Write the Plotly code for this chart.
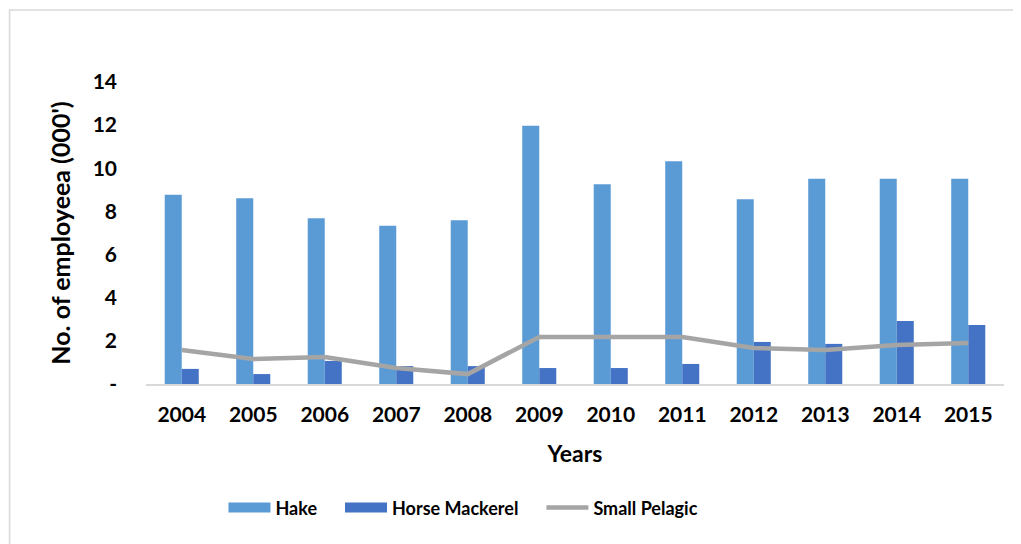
import plotly.graph_objects as go

years = ["2004", "2005", "2006", "2007", "2008", "2009",
         "2010", "2011", "2012", "2013", "2014", "2015"]
hake = [8.77, 8.61, 7.68, 7.34, 7.59, 11.97, 9.26, 10.33, 8.57, 9.51, 9.51, 9.51]
horse_mackerel = [0.70, 0.46, 1.07, 0.83, 0.83, 0.74, 0.74, 0.93, 1.95, 1.86, 2.92, 2.74]
small_pelagic = [1.58, 1.16, 1.25, 0.74, 0.46, 2.18, 2.18, 2.18, 1.67, 1.58, 1.81, 1.90]

y_ticks = [0, 2, 4, 6, 8, 10, 12, 14]
y_labels = ["-", "2", "4", "6", "8", "10", "12", "14"]

FONT = "Lato, 'Open Sans', sans-serif"
HAKE_COLOR = "#5B9BD5"
HORSE_COLOR = "#4472C4"
PELAGIC_COLOR = "#A5A5A5"
PAD = "\u2002\u2002"  # extra room between legend entries

fig = go.Figure()
fig.add_trace(go.Bar(x=years, y=hake, name="Hake", showlegend=False,
                     marker={"color": HAKE_COLOR, "line": {"width": 0}}))
fig.add_trace(go.Bar(x=years, y=horse_mackerel, name="Horse Mackerel", showlegend=False,
                     marker={"color": HORSE_COLOR, "line": {"width": 0}}))
fig.add_trace(go.Scatter(x=years, y=small_pelagic, name="Small Pelagic", showlegend=False,
                         mode="lines", line={"color": PELAGIC_COLOR, "width": 4.5}))

# legend entries styled like the Excel swatches (wide blocks for bars)
for name, color, width in [("Hake" + PAD, HAKE_COLOR, 14),
                           ("Horse Mackerel" + PAD, HORSE_COLOR, 14),
                           ("Small Pelagic", PELAGIC_COLOR, 4.5)]:
    fig.add_trace(go.Scatter(x=[None], y=[None], name=name, mode="lines",
                             line={"color": color, "width": width}))

# page body has an 8px margin, so the figure is sized/offset to compensate
fig.update_layout(
    width=1013,
    height=536,
    margin={"l": 138, "r": 17, "t": 74, "b": 160, "autoexpand": False},
    paper_bgcolor="white",
    plot_bgcolor="white",
    barmode="group",
    bargap=0.524,
    bargroupgap=0,
    font={"family": FONT, "size": 21, "color": "#000000", "weight": "bold"},
    showlegend=True,
    legend={
        "orientation": "h",
        "x": 0.37,
        "y": -0.41,
        "xanchor": "center",
        "yanchor": "middle",
        "itemwidth": 42,
        "font": {"family": FONT, "size": 18, "weight": "bold"},
        "traceorder": "normal",
    },
    shapes=[{
        "type": "rect", "xref": "paper", "yref": "paper",
        "x0": -0.159, "x1": 1.05, "y0": -0.6, "y1": 1.238,
        "line": {"color": "#D9D9D9", "width": 1.5},
        "fillcolor": "rgba(0,0,0,0)",
        "layer": "below",
    }],
)

fig.update_xaxes(
    automargin=False,
    showgrid=False,
    showline=True,
    linecolor="#D9D9D9",
    linewidth=1.5,
    ticks="",
    ticklabelstandoff=11,
    tickfont={"family": FONT, "size": 21, "weight": "bold"},
    title={"text": "Years", "standoff": 21,
           "font": {"family": FONT, "size": 23, "weight": "bold"}},
)
fig.update_yaxes(
    automargin=False,
    range=[0, 14],
    tickvals=y_ticks,
    ticktext=y_labels,
    showgrid=False,
    zeroline=False,
    showline=False,
    ticks="",
    ticklabelstandoff=28,
    tickfont={"family": FONT, "size": 21, "weight": "bold"},
    title={"text": "No. of employeea (000')", "standoff": 14,
           "font": {"family": FONT, "size": 25, "weight": "bold"}},
)

fig.write_html("out.html")
